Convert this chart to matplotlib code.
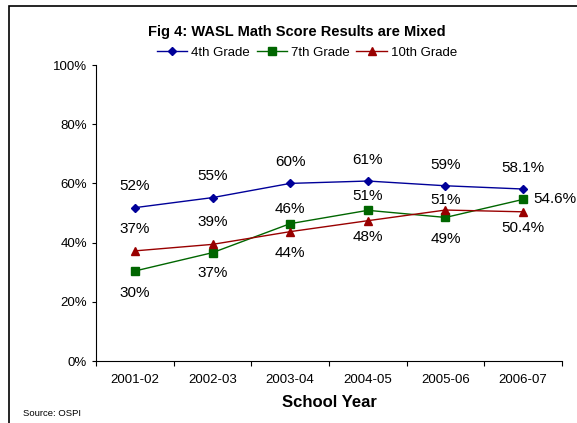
import matplotlib.pyplot as plt
from matplotlib.patches import Rectangle
import numpy as np

plt.rcParams['font.family'] = ['Liberation Sans', 'DejaVu Sans']

years = ["2001-02", "2002-03", "2003-04", "2004-05", "2005-06", "2006-07"]
grade4 = [51.8, 55.2, 60.0, 60.8, 59.2, 58.1]
grade7 = [30.4, 36.6, 46.4, 50.9, 48.5, 54.6]
grade10 = [37.2, 39.4, 43.7, 47.4, 51.0, 50.4]
labels4 = ["52%", "55%", "60%", "61%", "59%", "58.1%"]
labels7 = ["30%", "37%", "46%", "51%", "49%", "54.6%"]
labels10 = ["37%", "39%", "44%", "48%", "51%", "50.4%"]
yticks = [0, 20, 40, 60, 80, 100]

fig = plt.figure(figsize=(5.77, 4.23), dpi=100)
ax = fig.add_axes([96 / 577, 62 / 423, 466 / 577, 296 / 423])

x = np.arange(len(years)) + 0.5
ax.plot(x, grade4, color="#000099", marker="D", markersize=4, lw=1, label="4th Grade")
ax.plot(x, grade7, color="#006600", marker="s", markersize=5.5, lw=1, label="7th Grade")
ax.plot(x, grade10, color="#990000", marker="^", markersize=6, lw=1, label="10th Grade")

# label offsets in points (dx, dy) relative to each point
offs4 = [(0, 15.5), (0, 15.5), (0, 15.5), (0, 15), (0, 15), (0, 15)]
offs7 = [(0, -15.8), (0, -14.4), (0, 10.5), (0, 10), (0, -15.8), (7, 0)]
offs10 = [(0, 15.8), (0, 15.8), (0, -15.5), (0, -12), (0, 7.5), (0, -12)]
for vals, labs, offs in [(grade4, labels4, offs4), (grade7, labels7, offs7), (grade10, labels10, offs10)]:
    for xi, v, t, o in zip(x, vals, labs, offs):
        ax.annotate(t, (xi, v), xytext=o, textcoords="offset points",
                    ha="left" if o[0] > 0 else "center", va="center", fontsize=11)

ax.set_xlim(0, len(years))
ax.set_ylim(0, 100)
ax.set_yticks(yticks)
ax.set_yticklabels([f"{t}%" for t in yticks], fontsize=9.5)
ax.set_xticks(np.arange(len(years) + 1))
ax.set_xticklabels([])
ax.set_xticks(x, minor=True)
ax.set_xticklabels(years, minor=True, fontsize=9.5)
ax.tick_params(axis="x", which="major", length=3.5, direction="out")
ax.tick_params(axis="x", which="minor", length=0, pad=9)
ax.tick_params(axis="y", length=3, pad=3.5)
for s in ["top", "right"]:
    ax.spines[s].set_visible(False)
ax.set_xlabel("School Year", fontsize=12, fontweight="bold", labelpad=7)

fig.text(297 / 577, 1 - 32 / 423, "Fig 4: WASL Math Score Results are Mixed",
         ha="center", va="center", fontsize=10.5, fontweight="bold")
fig.legend(loc="center", bbox_to_anchor=(307 / 577, 1 - 53 / 423), ncol=3, frameon=False,
           fontsize=9.5, handlelength=2.3, handletextpad=0.3, columnspacing=0.5)
fig.text(23 / 577, 1 - 413 / 423, "Source: OSPI", ha="left", va="center", fontsize=6.8)

# chart border
fig.patches.append(Rectangle((9 / 577, -0.1), 1.2, 1.1 - 6 / 423, transform=fig.transFigure,
                             fill=False, edgecolor="black", lw=1.2))

fig.savefig("out.png", dpi=100)
